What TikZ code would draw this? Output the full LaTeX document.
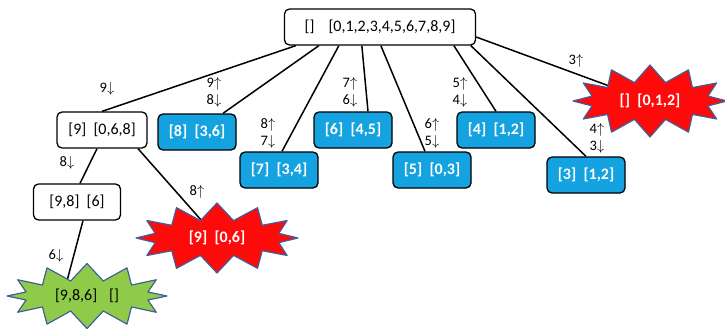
\documentclass[tikz,border=0pt]{standalone}
\usepackage{fontspec}
\setmainfont{Carlito}
\usetikzlibrary{shapes.symbols,backgrounds}
\definecolor{boxblue}{HTML}{14A3E0}
\definecolor{burstred}{HTML}{FF0A0A}
\definecolor{burstgreen}{HTML}{8FCB48}
\definecolor{burstedge}{HTML}{41609A}
\begin{document}
\begin{tikzpicture}[x=1pt, y=-1pt, line join=round, line cap=round,
	every node/.style={font=\fontsize{16}{18}\selectfont},
	wbox/.style={draw, line width=1.3pt, rounded corners=5pt, fill=white, minimum width=78pt, minimum height=36pt, inner xsep=4pt},
	bbox/.style={wbox, fill=boxblue, text=white, font=\fontsize{16}{18}\selectfont\bfseries},
	burst/.style={starburst, draw=burstedge, line width=1.2pt, fill=burstred, text=white, font=\fontsize{16}{18}\selectfont\bfseries, starburst points=12, starburst point height=17pt, random starburst=0, inner sep=0pt},
	lab/.style={font=\fontsize{14.5}{17}\selectfont, align=center, inner sep=0pt},
	edge/.style={line width=1.5pt}]
	\useasboundingbox (0,0) rectangle (725,329);
	%%Nút gốc và các nút con
	\node[wbox, minimum width=191pt] (root) at (380,27) {[]\hspace{14pt}[0,1,2,3,4,5,6,7,8,9]};
	\node[wbox, minimum width=90pt] (n9) at (102,130) {[9]~~[0,6,8]};
	\node[bbox] (n8) at (197,132) {[8]~~[3,6]};
	\node[bbox] (n7) at (279,170) {[7]~~[3,4]};
	\node[bbox] (n6) at (353,130) {[6]~~[4,5]};
	\node[bbox] (n5) at (432,170) {[5]~~[0,3]};
	\node[bbox] (n4) at (496,130) {[4]~~[1,2]};
	\node[bbox] (n3) at (586,175) {[3]~~[1,2]};
	\node[wbox, minimum width=87pt] (n98) at (77,202) {[9,8]~~[6]};
	%%Các nút ngõ cụt
	\node[burst, minimum width=154pt, minimum height=72pt] (s3) at (650,101) {[]~~[0,1,2]};
	\node[burst, minimum width=162pt, minimum height=70pt] (s9) at (217,238) {[9]~~[0,6]};
	\node[burst, fill=burstgreen, text=black, font=\fontsize{16}{18}\selectfont, minimum width=160pt, minimum height=65pt] (g986) at (87,296) {[9,8,6]\hspace{12pt}[]};
	%%Các cạnh
	\begin{scope}[on background layer]
		\draw[edge] ([xshift=12pt]root.south west) -- (n9.north);
		\draw[edge] ([xshift=35pt]root.south west) -- ([xshift=26pt]n8.north);
		\draw[edge] ([xshift=55pt]root.south west) -- ([xshift=3pt]n7.north);
		\draw[edge] ([xshift=78pt]root.south west) -- ([xshift=15pt]n6.north);
		\draw[edge] ([xshift=97pt]root.south west) -- ([xshift=-7pt]n5.north);
		\draw[edge] ([xshift=170pt]root.south west) -- (n4.north);
		\draw[edge] ([xshift=187pt]root.south west) -- (n3.north);
		\draw[edge] ([yshift=-10pt]root.east) -- (s3.center);
		\draw[edge] ([xshift=-5pt]n9.south) -- ([xshift=3pt]n98.north);
		\draw[edge] ([xshift=36pt]n9.south) -- (s9.center);
		\draw[edge] ([xshift=6pt]n98.south) -- ([xshift=-24pt]g986.center);
	\end{scope}
	%%Nhãn trên cạnh
	\foreach \x/\y/\t [count=\i] in {107/89/{9$\downarrow$}, 214/92/{9$\uparrow$\\8$\downarrow$}, 268/133/{8$\uparrow$\\7$\downarrow$}, 350/92/{7$\uparrow$\\6$\downarrow$}, 432/133/{6$\uparrow$\\5$\downarrow$}, 460/92/{5$\uparrow$\\4$\downarrow$}, 597/138/{4$\uparrow$\\3$\downarrow$}, 576/61/{3$\uparrow$}, 67/163/{8$\downarrow$}, 197/192/{8$\uparrow$}, 56/256/{6$\downarrow$}}
	\node[lab] (l\i) at (\x,\y) {\t};
\end{tikzpicture}
\end{document}
